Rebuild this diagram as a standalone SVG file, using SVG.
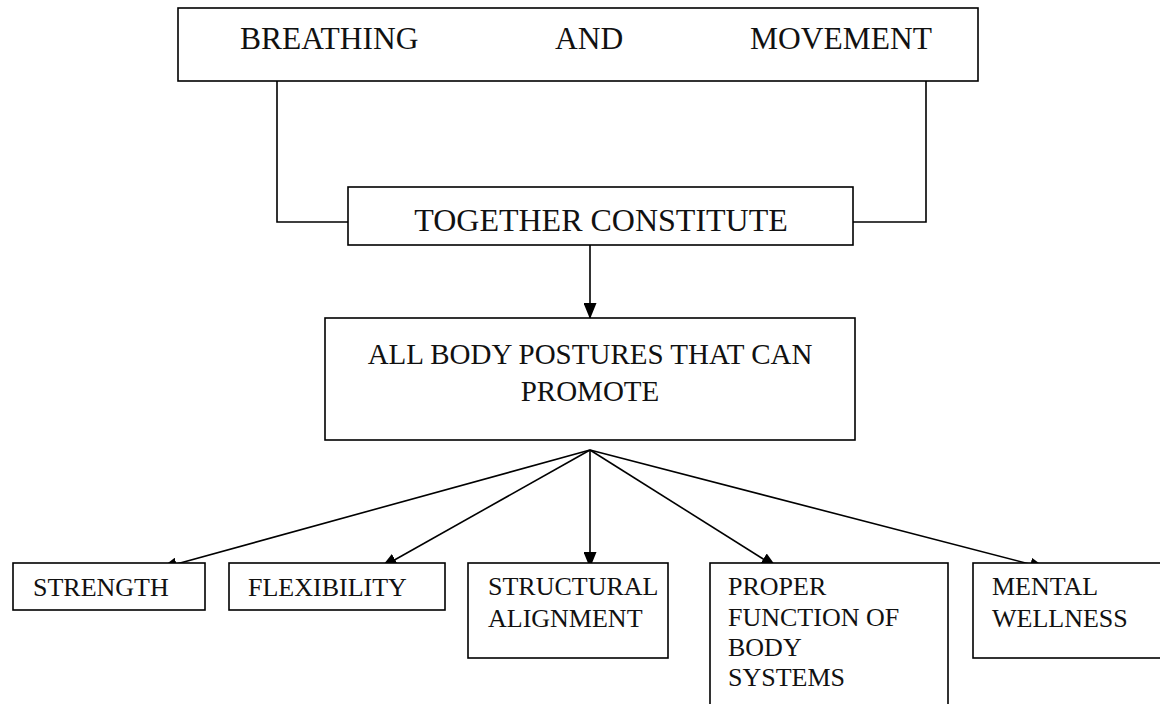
<svg xmlns="http://www.w3.org/2000/svg" width="1160" height="704" viewBox="0 0 1160 704">
<style>
.box{fill:#fff;stroke:#000;stroke-width:1.6}
.t{font-family:"Liberation Serif","Times New Roman",serif;fill:#111}
.big{font-size:31.5px}
.mid{font-size:29px}
.sm{font-size:26px}
.ln{fill:none;stroke:#000;stroke-width:1.6}
</style>
<defs>
<marker id="ah" markerWidth="16" markerHeight="13" refX="15" refY="6.5" orient="auto" markerUnits="userSpaceOnUse">
<path d="M0,0 L16,6.5 L0,13 Z" fill="#000"/>
</marker>
</defs>
<rect width="1160" height="704" fill="#fff"/>
<g id="connectors">
<polyline class="ln" points="277,81 277,222 348,222"/>
<polyline class="ln" points="926,81 926,222 853,222"/>
<line class="ln" x1="590" y1="245" x2="590" y2="318" marker-end="url(#ah)"/>
<line class="ln" x1="590" y1="450" x2="162" y2="568" marker-end="url(#ah)"/>
<line class="ln" x1="590" y1="450" x2="382" y2="567" marker-end="url(#ah)"/>
<line class="ln" x1="590" y1="450" x2="590" y2="567" marker-end="url(#ah)"/>
<line class="ln" x1="590" y1="450" x2="776" y2="567" marker-end="url(#ah)"/>
<line class="ln" x1="590" y1="450" x2="1045" y2="568" marker-end="url(#ah)"/>
</g>
<g id="breathing">
<rect class="box" x="178" y="8" width="800" height="73"/>
<text class="t big" x="240" y="49">BREATHING</text>
<text class="t big" x="555" y="49">AND</text>
<text class="t big" x="750" y="49">MOVEMENT</text>
</g>
<g id="together">
<rect class="box" x="348" y="187" width="505" height="58"/>
<text class="t" style="font-size:32px" x="601" y="231" text-anchor="middle">TOGETHER CONSTITUTE</text>
</g>
<g id="postures">
<rect class="box" x="325" y="318" width="530" height="122"/>
<text class="t mid" x="590" y="364" text-anchor="middle">ALL BODY POSTURES THAT CAN</text>
<text class="t mid" x="590" y="401" text-anchor="middle">PROMOTE</text>
</g>
<g id="strength">
<rect class="box" x="13" y="563" width="192" height="47"/>
<text class="t sm" x="33" y="596">STRENGTH</text>
</g>
<g id="flexibility">
<rect class="box" x="229" y="563" width="216" height="47"/>
<text class="t sm" x="248" y="596">FLEXIBILITY</text>
</g>
<g id="structural">
<rect class="box" x="468" y="563" width="200" height="95"/>
<text class="t sm" x="488" y="595">STRUCTURAL</text>
<text class="t sm" x="488" y="627">ALIGNMENT</text>
</g>
<g id="proper">
<rect class="box" x="710" y="563" width="238" height="150"/>
<text class="t sm" x="728" y="595">PROPER</text>
<text class="t sm" x="728" y="626">FUNCTION OF</text>
<text class="t sm" x="728" y="656">BODY</text>
<text class="t sm" x="728" y="686">SYSTEMS</text>
</g>
<g id="mental">
<rect class="box" x="973" y="563" width="195" height="95"/>
<text class="t sm" x="992" y="595">MENTAL</text>
<text class="t sm" x="992" y="627">WELLNESS</text>
</g>
</svg>
